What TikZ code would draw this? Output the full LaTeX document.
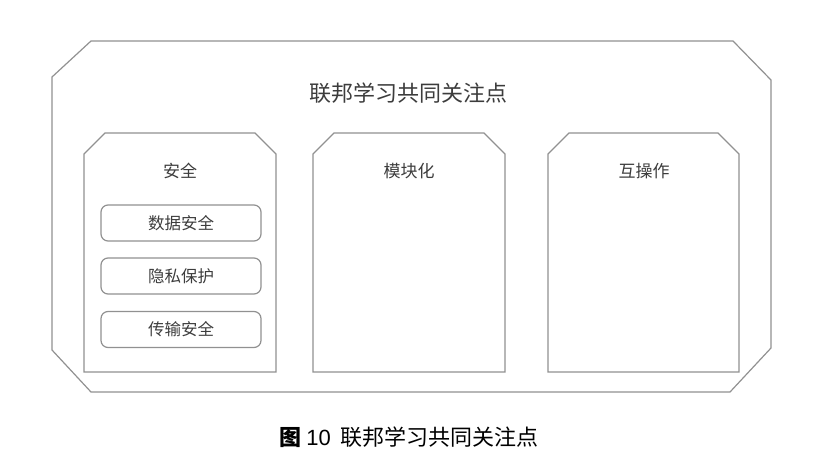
\documentclass[tikz,border=0pt]{standalone}
\usepackage{fontspec}
\newfontfamily\cjk{Noto Sans CJK SC}
\newfontfamily\latinsans{Liberation Sans}
\begin{document}
\begin{tikzpicture}[x=1pt,y=-1pt,
  frame/.style={draw={rgb,255:red,145;green,145;blue,145}, line width=1.2pt, line join=miter},
  ttl/.style={font=\cjk\fontsize{20}{22}\selectfont, text={rgb,255:red,60;green,60;blue,60}},
  sub/.style={font=\cjk\fontsize{17}{19}\selectfont, text={rgb,255:red,60;green,60;blue,60}},
  itembox/.style={frame, rounded corners=7pt, minimum width=160pt, minimum height=36pt, inner sep=0pt,
    font=\cjk\fontsize{16.5}{18}\selectfont, text={rgb,255:red,60;green,60;blue,60}}]
\useasboundingbox (0,0) rectangle (816,466);
% outer frame
\draw[frame] (91,41) -- (733,41) -- (771,80) -- (771,348) -- (730,392) -- (91,392) -- (52,350) -- (52,77) -- cycle;
% inner boxes (top corners cut)
\foreach \l/\r in {84/276, 313/505, 548/739}{
  \draw[frame] (\l+21,133) -- (\r-21,133) -- (\r,154) -- (\r,372) -- (\l,372) -- (\l,154) -- cycle;
}
\node[ttl, font=\cjk\fontsize{22}{24}\selectfont] (main) at (408,93) {联邦学习共同关注点};
\node[sub] (sec) at (180,171) {安全};
\node[sub] (mod) at (409,171) {模块化};
\node[sub] (inter) at (644,171) {互操作};
\node[itembox] (d1) at (181,223) {数据安全};
\node[itembox] (d2) at (181,276) {隐私保护};
\node[itembox] (d3) at (181,329.5) {传输安全};
\node[font=\cjk\fontsize{22}{24}\selectfont, text=black] (cap) at (409,437) {\textbf{图}\hspace{5pt}{\latinsans 10}\hspace{10pt}联邦学习共同关注点};
\end{tikzpicture}
\end{document}
